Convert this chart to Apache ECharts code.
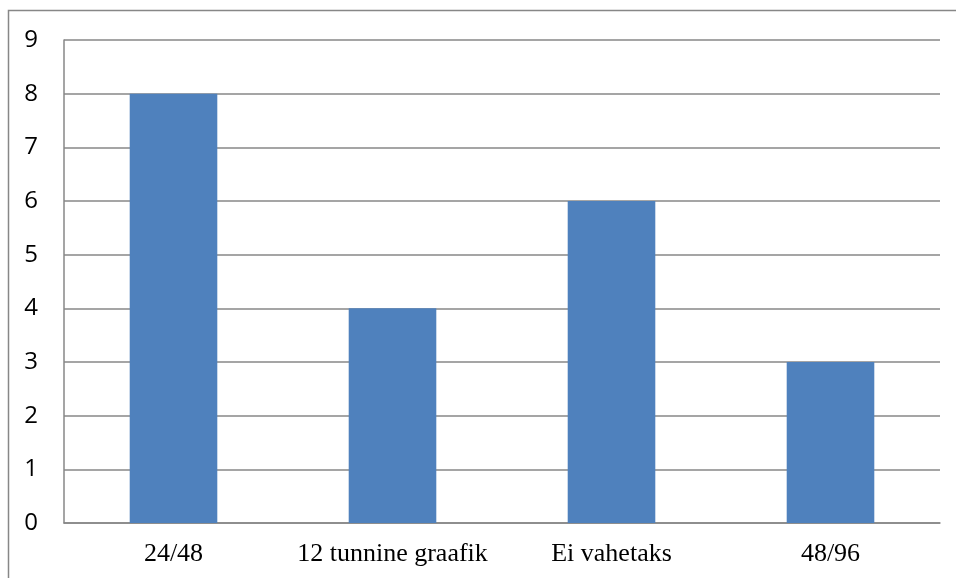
<!DOCTYPE html>
<html>
<head>
<meta charset="utf-8">
<script src="https://cdn.jsdelivr.net/npm/echarts@6/dist/echarts.min.js"></script>
<style>
    html, body { margin: 0; padding: 0; background: #fff; }
    #chart { width: 956px; height: 578px; }
</style>
</head>
<body>
<div id="chart"></div>
<script>
    var categories = ["24/48", "12 tunnine graafik", "Ei vahetaks", "48/96"];
    var counts = [8, 4, 6, 3];
    var yTicks = [0, 1, 2, 3, 4, 5, 6, 7, 8, 9];

    var chart = echarts.init(document.getElementById("chart"));
    chart.setOption({
        animation: false,
        graphic: [
            {
                type: "rect",
                shape: { x: 8.5, y: 10.5, width: 960, height: 600 },
                style: { fill: "none", stroke: "#878787", lineWidth: 1.5 },
                silent: true
            }
        ],
        grid: {
            left: 64,
            right: 16,
            top: 40,
            bottom: 55
        },
        xAxis: {
            type: "category",
            data: categories,
            axisLine: { lineStyle: { color: "#878787", width: 1.5 } },
            axisTick: { show: false },
            axisLabel: {
                interval: 0,
                color: "#000",
                fontFamily: "Liberation Serif",
                fontSize: 26,
                margin: 18
            }
        },
        yAxis: {
            type: "value",
            min: yTicks[0],
            max: yTicks[yTicks.length - 1],
            interval: 1,
            axisLine: { show: true, lineStyle: { color: "#878787", width: 1.5 } },
            axisTick: { show: false },
            splitLine: { lineStyle: { color: "#878787", width: 1.5 } },
            axisLabel: {
                color: "#000",
                fontFamily: "Open Sans",
                fontSize: 24,
                margin: 26
            }
        },
        series: [
            {
                type: "bar",
                data: counts,
                barWidth: "40%",
                itemStyle: { color: "#4F81BD" }
            }
        ]
    });
</script>
</body>
</html>
